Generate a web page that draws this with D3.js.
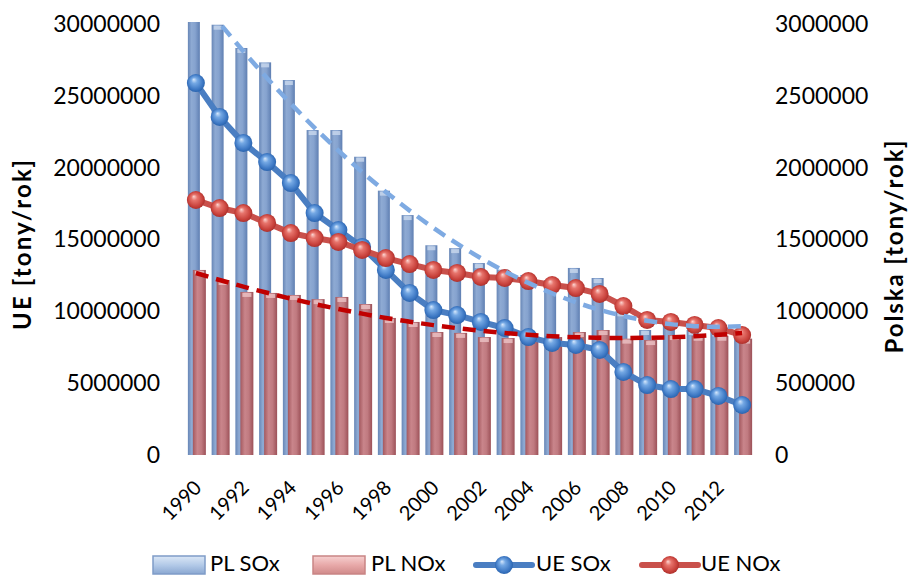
<!DOCTYPE html>
<html><head><meta charset="utf-8">
<script src="https://cdn.jsdelivr.net/npm/d3@7"></script>
<style>
body{margin:0;background:#fff}
svg{display:block}
text{font-family:Lato,"Open Sans",sans-serif;fill:#000}
</style>
</head><body>
<svg id="c" width="908" height="576"></svg>
<script>
// ---- data ----
const years = [1990,1991,1992,1993,1994,1995,1996,1997,1998,1999,2000,2001,2002,2003,2004,2005,2006,2007,2008,2009,2010,2011,2012,2013];
// Poland (right axis)
const plSOx = [3210000,2995000,2833000,2733000,2610000,2262000,2262000,2076000,1840000,1670000,1460000,1440000,1336000,1290000,1253000,1218000,1302000,1232000,1000000,870000,930000,870000,860000,830000];
const plNOx = [1288000,1218000,1135000,1128000,1114000,1085000,1100000,1051000,954000,926000,856000,850000,821000,814000,825000,821000,856000,870000,810000,800000,835000,830000,830000,810000];
// EU (left axis)
const ueSOx = [25890000,23530000,21720000,20390000,18930000,16840000,15660000,14480000,12880000,11280000,10090000,9740000,9260000,8840000,8210000,7800000,7660000,7310000,5780000,4870000,4590000,4590000,4110000,3480000];
const ueNOx = [17750000,17190000,16840000,16150000,15450000,15100000,14830000,14270000,13710000,13290000,12880000,12670000,12390000,12320000,12110000,11830000,11620000,11210000,10370000,9400000,9260000,9050000,8840000,8350000];
// trend lines of the Polish series
const plSOxTrend = [3214000,3007000,2810000,2623000,2445000,2277000,2119000,1970000,1831000,1701000,1581000,1471000,1370000,1279000,1198000,1126000,1063000,1011000,968000,935000,911000,897000,892000,897000];
const plNOxTrend = [1267000,1218000,1172000,1129000,1088000,1051000,1016000,984000,954000,928000,904000,883000,865000,849000,837000,827000,820000,816000,814000,816000,820000,827000,837000,849000];
const leftTicks = [0,5000000,10000000,15000000,20000000,25000000,30000000];
const rightTicks = [0,500000,1000000,1500000,2000000,2500000,3000000];
const yearLabels = [1990,1992,1994,1996,1998,2000,2002,2004,2006,2008,2010,2012];
const legendNames = ["PL SOx","PL NOx","UE SOx","UE NOx"];

// ---- layout ----
const svg = d3.select("#c");
const X0 = 184, X1 = 754, Y0 = 455, Y1 = 24;
const x = d3.scaleBand().domain(years).range([X0, X1]).padding(0);
const yL = d3.scaleLinear().domain([0, 30000000]).range([Y0, Y1]);
const yR = d3.scaleLinear().domain([0, 3000000]).range([Y0, Y1]);
const cx = d => x(d) + x.bandwidth()/2;

const defs = svg.append("defs");
function linGrad(id, stops, horiz=true){
  const g = defs.append("linearGradient").attr("id", id)
    .attr("x1","0").attr("y1","0").attr("x2", horiz?"1":"0").attr("y2", horiz?"0":"1");
  stops.forEach(s => g.append("stop").attr("offset", s[0]).attr("stop-color", s[1]));
}
function radGrad(id, stops){
  const g = defs.append("radialGradient").attr("id", id)
    .attr("cx","0.5").attr("cy","0.5").attr("r","0.55").attr("fx","0.38").attr("fy","0.3");
  stops.forEach(s => g.append("stop").attr("offset", s[0]).attr("stop-color", s[1]));
}
linGrad("gBlueBar", [[0,"#6786b6"],[0.3,"#8eaad3"],[0.6,"#86a3cf"],[1,"#5f7fb2"]]);
linGrad("gRedBar", [[0,"#a4595f"],[0.35,"#c9858b"],[0.65,"#c07a80"],[1,"#9c5158"]]);
linGrad("gBlueLeg", [[0,"#dbe7f6"],[0.5,"#b3cae8"],[1,"#8aa7d1"]], false);
linGrad("gRedLeg", [[0,"#f6d0d0"],[0.5,"#e8a9a9"],[1,"#d08a8a"]], false);
radGrad("gBlueBall", [[0,"#d6e8fc"],[0.3,"#74a8e4"],[0.75,"#3d78c4"],[1,"#245da6"]]);
radGrad("gRedBall", [[0,"#fcd6d2"],[0.3,"#e7746c"],[0.75,"#c8413b"],[1,"#a22a27"]]);

defs.append("clipPath").attr("id","plot").append("rect")
  .attr("x", X0-20).attr("y", 22).attr("width", X1-X0+40).attr("height", Y0-22+1);

const plot = svg.append("g").attr("clip-path","url(#plot)");

// bars
const bw = 12;
plot.append("g").selectAll("rect").data(years).join("rect")
  .attr("x", d => cx(d)-8).attr("width", bw)
  .attr("y", (d,i) => yR(plSOx[i])).attr("height", (d,i) => Y0 - yR(plSOx[i]))
  .attr("fill","url(#gBlueBar)");
plot.append("g").selectAll("rect").data(years).join("rect")
  .attr("x", d => cx(d)-8+2).attr("width", bw-4)
  .attr("y", (d,i) => yR(plSOx[i])+1).attr("height", 4)
  .attr("fill","#c9d8ee").attr("opacity",0.8);
plot.append("g").selectAll("rect").data(years).join("rect")
  .attr("x", d => cx(d)-3).attr("width", bw+1)
  .attr("y", (d,i) => yR(plNOx[i])).attr("height", (d,i) => Y0 - yR(plNOx[i]))
  .attr("fill","url(#gRedBar)");
plot.append("g").selectAll("rect").data(years).join("rect")
  .attr("x", d => cx(d)-3+2).attr("width", bw-3)
  .attr("y", (d,i) => yR(plNOx[i])+1).attr("height", 4)
  .attr("fill","#ecc3c5").attr("opacity",0.8);

// lines with markers
function seriesLine(vals, color, ball){
  const line = d3.line().x((d,i)=>cx(years[i])).y(d=>yL(d));
  plot.append("path").datum(vals).attr("d", line)
    .attr("fill","none").attr("stroke", color).attr("stroke-width",6).attr("stroke-linejoin","round");
  plot.append("g").selectAll("circle").data(vals).join("circle")
    .attr("cx",(d,i)=>cx(years[i])).attr("cy", d=>yL(d)).attr("r",9)
    .attr("fill", ball);
}
seriesLine(ueSOx, "#4a7ec2", "url(#gBlueBall)");
seriesLine(ueNOx, "#c9504b", "url(#gRedBall)");

// trend lines
function trend(vals, color){
  const line = d3.line().curve(d3.curveMonotoneX).x((d,i)=>cx(years[i])).y(d=>yR(d));
  plot.append("path").datum(vals).attr("d", line)
    .attr("fill","none").attr("stroke", color).attr("stroke-width",4.5)
    .attr("stroke-dasharray","13,8");
}
trend(plSOxTrend, "#7eaae2");
trend(plNOxTrend, "#c00000");

// axes
const fmt = d3.format("d");
const axL = svg.append("g").attr("transform",`translate(${X0},0)`)
  .call(d3.axisLeft(yL).tickValues(leftTicks).tickFormat(fmt).tickSize(0).tickPadding(24));
const axR = svg.append("g").attr("transform",`translate(${X1},0)`)
  .call(d3.axisRight(yR).tickValues(rightTicks).tickFormat(fmt).tickSize(0).tickPadding(21));
[axL, axR].forEach(a => { a.select(".domain").remove(); a.selectAll("text").style("font-size","23px").attr("font-family","Lato"); });

const axB = svg.append("g").attr("transform",`translate(0,${Y0})`)
  .call(d3.axisBottom(x).tickValues(yearLabels).tickSize(0).tickFormat(fmt));
axB.select(".domain").remove();
axB.selectAll("text").style("font-size","20px").attr("font-family","Lato")
  .attr("text-anchor","end").attr("dy","0.35em")
  .attr("transform", "translate(2,29) rotate(-45)").attr("x",0).attr("y",0);

// axis titles
svg.append("text").attr("transform","translate(31,245) rotate(-90)")
  .attr("text-anchor","middle").style("font-size","24px").style("font-weight","bold")
  .attr("textLength",170).attr("lengthAdjust","spacing")
  .text("UE [tony/rok]");
svg.append("text").attr("transform","translate(903,247) rotate(-90)")
  .attr("text-anchor","middle").style("font-size","24px").style("font-weight","bold")
  .attr("textLength",213).attr("lengthAdjust","spacing")
  .text("Polska [tony/rok]");

// legend
const lg = svg.append("g");
const ly = 564;
lg.append("rect").attr("x",153).attr("y",ly-8).attr("width",52).attr("height",18)
  .attr("fill","url(#gBlueLeg)").attr("stroke","#7f9cc8").attr("stroke-width",1.5);
lg.append("rect").attr("x",313).attr("y",ly-8).attr("width",52).attr("height",18)
  .attr("fill","url(#gRedLeg)").attr("stroke","#c98585").attr("stroke-width",1.5);
lg.append("line").attr("x1",476).attr("x2",532).attr("y1",ly+1).attr("y2",ly+1)
  .attr("stroke","#4a7ec2").attr("stroke-width",6).attr("stroke-linecap","round");
lg.append("circle").attr("cx",504).attr("cy",ly+1).attr("r",9).attr("fill","url(#gBlueBall)");
lg.append("line").attr("x1",642).attr("x2",698).attr("y1",ly+1).attr("y2",ly+1)
  .attr("stroke","#c9504b").attr("stroke-width",6).attr("stroke-linecap","round");
lg.append("circle").attr("cx",670).attr("cy",ly+1).attr("r",9).attr("fill","url(#gRedBall)");
const lx = [210,371,536,701];
lg.selectAll("text.l").data(legendNames).join("text").attr("class","l")
  .attr("x",(d,i)=>lx[i]).attr("y",ly).attr("dy","0.34em")
  .style("font-size","22px").text(d=>d);
</script>
</body></html>
